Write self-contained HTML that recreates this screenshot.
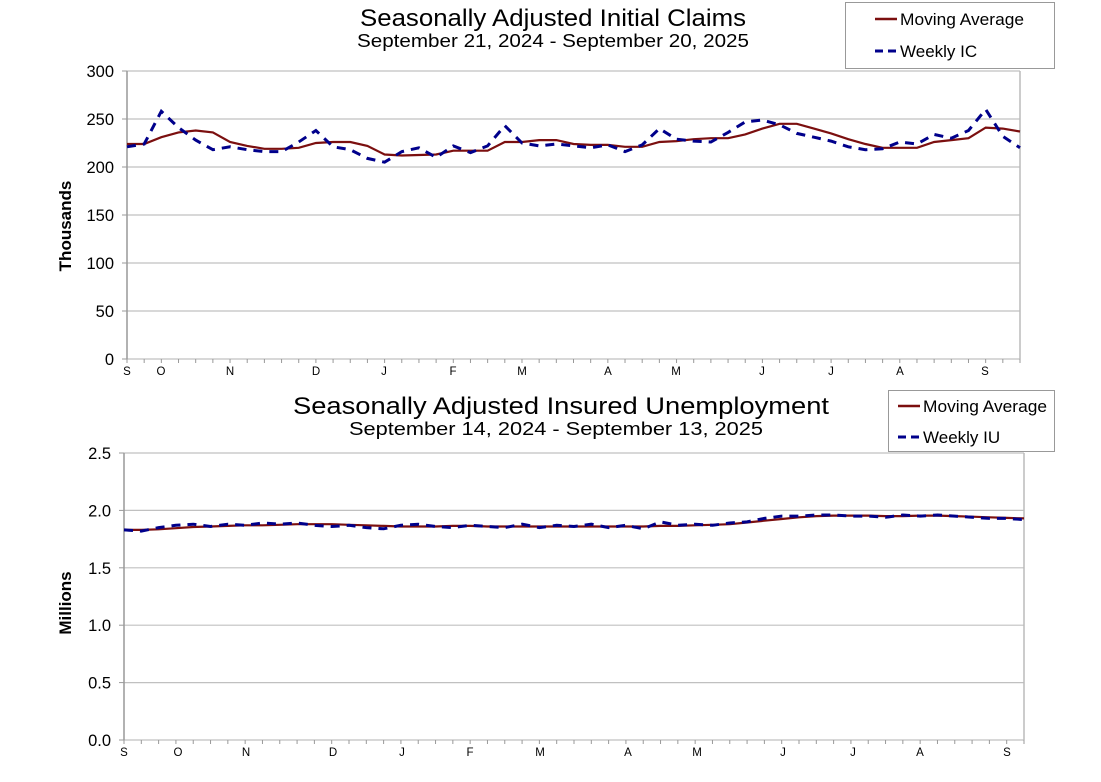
<!DOCTYPE html>
<html><head><meta charset="utf-8"><style>
html,body{margin:0;padding:0;background:#fff;}
svg{display:block;font-family:"Liberation Sans",Arial,sans-serif;}
</style></head><body>
<svg id="s" width="1101" height="782" viewBox="0 0 1101 782" xmlns="http://www.w3.org/2000/svg">
<rect width="1101" height="782" fill="#fff"/>
<text x="360" y="26" font-size="24" textLength="386" lengthAdjust="spacingAndGlyphs">Seasonally Adjusted Initial Claims</text>
<text x="357" y="47" font-size="18" textLength="392" lengthAdjust="spacingAndGlyphs">September 21, 2024 - September 20, 2025</text>
<text x="293" y="414" font-size="24" textLength="536" lengthAdjust="spacingAndGlyphs">Seasonally Adjusted Insured Unemployment</text>
<text x="349" y="435" font-size="18" textLength="414" lengthAdjust="spacingAndGlyphs">September 14, 2024 - September 13, 2025</text>
<rect x="845.5" y="2.5" width="209" height="66" fill="#fff" stroke="#999"/>
<line x1="875" y1="19" x2="897" y2="19" stroke="#7b0f0f" stroke-width="2.5"/>
<text x="900" y="25" font-size="17" textLength="124" lengthAdjust="spacingAndGlyphs">Moving Average</text>
<line x1="875" y1="51" x2="897" y2="51" stroke="#00008b" stroke-width="3" stroke-dasharray="8,5"/>
<text x="900" y="57" font-size="17">Weekly IC</text>
<rect x="888.5" y="390.5" width="166" height="61" fill="#fff" stroke="#999"/>
<line x1="898" y1="406" x2="920" y2="406" stroke="#7b0f0f" stroke-width="2.5"/>
<text x="923" y="412" font-size="17" textLength="124" lengthAdjust="spacingAndGlyphs">Moving Average</text>
<line x1="898" y1="437" x2="920" y2="437" stroke="#00008b" stroke-width="3" stroke-dasharray="8,5"/>
<text x="923" y="443" font-size="17">Weekly IU</text>
<text transform="translate(71,226) rotate(-90)" font-size="17" font-weight="bold" text-anchor="middle">Thousands</text>
<text transform="translate(71,603) rotate(-90)" font-size="17" font-weight="bold" text-anchor="middle">Millions</text>
<g id="g"></g>
</svg>
<script>
var g=document.getElementById('g'),h='';
function chart(L,R,T,B,ymax,step,labs,fmt,ma,wk,mlab,mpos){
  for(var v=0;v<=ymax+1e-9;v+=step){var y=B-(v/ymax)*(B-T);
    h+='<line x1="'+L+'" y1="'+y+'" x2="'+R+'" y2="'+y+'" stroke="#c0c0c0" stroke-width="1.2"/>';
    h+='<line x1="'+(L-5)+'" y1="'+y+'" x2="'+L+'" y2="'+y+'" stroke="#999"/>';
    h+='<text x="'+(L-13)+'" y="'+(y+6)+'" font-size="16.5" text-anchor="end">'+fmt(v)+'</text>';}
  h+='<line x1="'+L+'" y1="'+T+'" x2="'+L+'" y2="'+B+'" stroke="#999" stroke-width="1.5"/>';
  h+='<line x1="'+R+'" y1="'+T+'" x2="'+R+'" y2="'+B+'" stroke="#bbb" stroke-width="1.5"/>';
  var dx=(R-L)/52;
  for(var i=0;i<=52;i++){var x=L+i*dx;h+='<line x1="'+x+'" y1="'+B+'" x2="'+x+'" y2="'+(B+4)+'" stroke="#999"/>';}
  for(var i=0;i<mlab.length;i++)h+='<text x="'+mpos[i]+'" y="'+(B+16)+'" font-size="11.5" text-anchor="middle">'+mlab[i]+'</text>';
  function pts(a){return a.map(function(v,i){return (L+i*dx).toFixed(1)+','+(B-(v/ymax)*(B-T)).toFixed(1)}).join(' ');}
  h+='<polyline points="'+pts(ma)+'" fill="none" stroke="#7b0f0f" stroke-width="2.2"/>';
  h+='<polyline points="'+pts(wk)+'" fill="none" stroke="#00008b" stroke-width="3" stroke-dasharray="9,7"/>';
}
var icw=[221,224,258,241,228,218,221,218,216,216,226,238,221,218,209,205,216,220,210,222,215,222,243,225,222,224,222,220,223,216,223,240,229,227,226,236,247,249,244,235,231,227,221,218,219,226,224,234,230,238,260,232,220];
var icm=[224,224,231,236,238,236,226,222,219,219,220,225,226,226,222,213,212,212.5,213,217,217,217,226,226,228,228,224,223,223,221,221,226,227,229,230,230,234,240,245,245,240,235,229,224,220,220,220,226,228,230,241,240,237];
chart(127,1020,71,359,300,50,0,function(v){return v},icm,icw,['S','O','N','D','J','F','M','A','M','J','J','A','S'],[127,161,230,316,384,453,522,608,676,762,831,900,985]);
var ium=[1.83,1.83,1.835,1.845,1.855,1.86,1.865,1.87,1.87,1.875,1.88,1.88,1.88,1.875,1.87,1.865,1.86,1.86,1.86,1.865,1.865,1.86,1.86,1.86,1.86,1.86,1.86,1.86,1.86,1.86,1.86,1.865,1.865,1.87,1.875,1.88,1.895,1.91,1.925,1.94,1.95,1.955,1.955,1.955,1.95,1.95,1.955,1.955,1.95,1.945,1.94,1.935,1.93];
var iuw=[1.83,1.82,1.85,1.87,1.88,1.86,1.88,1.87,1.89,1.88,1.89,1.87,1.86,1.87,1.85,1.84,1.87,1.88,1.86,1.85,1.87,1.86,1.85,1.88,1.85,1.87,1.86,1.88,1.85,1.87,1.84,1.9,1.87,1.88,1.87,1.89,1.9,1.93,1.95,1.95,1.96,1.96,1.95,1.95,1.94,1.96,1.95,1.96,1.95,1.94,1.93,1.93,1.92];
chart(124,1024,453,740,2.5,0.5,0,function(v){return v.toFixed(1)},ium,iuw,['S','O','N','D','J','F','M','A','M','J','J','A','S'],[124,178,246,333,402,470,540,628,697,783,853,920,1007]);
g.innerHTML=h;
</script>
</body></html>
